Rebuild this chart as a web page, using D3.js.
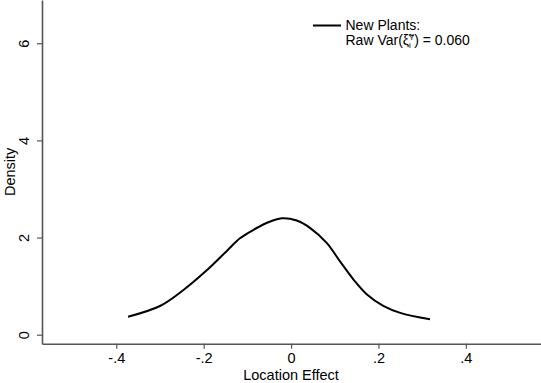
<!DOCTYPE html>
<html>
<head>
<meta charset="utf-8">
<script src="https://cdn.jsdelivr.net/npm/d3@7"></script>
<style>
  html, body { margin: 0; padding: 0; background: #fff; }
  svg { display: block; }
  text { font-family: "Liberation Sans", Arial, Helvetica, sans-serif; fill: #000; }
</style>
</head>
<body>
<svg id="chart" width="541" height="383"></svg>
<script>
// Data
const locationEffect = [-0.373, -0.300, -0.247, -0.193, -0.147, -0.117, -0.086, -0.056, -0.021, 0.013, 0.044, 0.082, 0.112, 0.143, 0.173, 0.211, 0.250, 0.318];
const density        = [0.371, 0.591, 0.915, 1.325, 1.725, 1.985, 2.160, 2.300, 2.397, 2.350, 2.195, 1.885, 1.510, 1.135, 0.835, 0.595, 0.450, 0.317];
const xTickValues = [-0.4, -0.2, 0, 0.2, 0.4];
const xTickLabels = ["-.4", "-.2", "0", ".2", ".4"];
const yTickValues = [0, 2, 4, 6];
const yTickLabels = ["0", "2", "4", "6"];
const legendTitle = "New Plants:";
const xTitle = "Location Effect";
const yTitle = "Density";

const svg = d3.select("#chart");
const plot = { left: 42, right: 541, top: 0, bottom: 343.7 };

const x = d3.scaleLinear().domain([-0.57, 0.572]).range([plot.left, plot.right]);
const y = d3.scaleLinear().domain([-0.185, 6.89]).range([plot.bottom, plot.top]);

const axisColor = "#555";
const fontFam = "Liberation Sans, Arial, sans-serif";

// X axis
const xAxis = d3.axisBottom(x)
  .tickValues(xTickValues)
  .tickFormat((d, i) => xTickLabels[i])
  .tickSize(5)
  .tickSizeOuter(0)
  .tickPadding(4);
const gx = svg.append("g").attr("transform", `translate(0,${plot.bottom})`).call(xAxis);
gx.select(".domain").attr("stroke", axisColor).attr("stroke-width", 1.6);
gx.selectAll(".tick line").attr("stroke", axisColor).attr("stroke-width", 1.2);
gx.selectAll(".tick text").attr("font-size", 14.5).attr("font-family", fontFam).attr("fill", "#000");

// Y axis
const yAxis = d3.axisLeft(y)
  .tickValues(yTickValues)
  .tickFormat((d, i) => yTickLabels[i])
  .tickSize(5)
  .tickSizeOuter(0);
const gy = svg.append("g").attr("transform", `translate(${plot.left},0)`).call(yAxis);
gy.select(".domain").attr("stroke", axisColor).attr("stroke-width", 1.6);
gy.selectAll(".tick line").attr("stroke", axisColor).attr("stroke-width", 1.2);
gy.selectAll(".tick text")
  .attr("font-size", 14.5)
  .attr("font-family", fontFam)
  .attr("fill", "#000")
  .attr("x", null).attr("dy", null)
  .attr("text-anchor", "middle")
  .attr("transform", "translate(-13,0) rotate(-90)");

// Axis titles
svg.append("text")
  .attr("x", x(0)).attr("y", 380)
  .attr("text-anchor", "middle").attr("font-size", 14.5)
  .text(xTitle);
svg.append("text")
  .attr("transform", `translate(14.5,${(plot.top + plot.bottom) / 2}) rotate(-90)`)
  .attr("text-anchor", "middle").attr("font-size", 14.5)
  .text(yTitle);

// Density curve
const pts = locationEffect.map((v, i) => [v, density[i]]);
const line = d3.line().x(d => x(d[0])).y(d => y(d[1])).curve(d3.curveCatmullRom.alpha(0.5));
svg.append("path")
  .datum(pts)
  .attr("d", line)
  .attr("fill", "none")
  .attr("stroke", "#000")
  .attr("stroke-width", 2);

// Legend
const lg = svg.append("g");
lg.append("line").attr("x1", 313).attr("x2", 341).attr("y1", 25.5).attr("y2", 25.5)
  .attr("stroke", "#000").attr("stroke-width", 2);
lg.append("text").attr("x", 345.5).attr("y", 29.5).attr("font-size", 14).text(legendTitle);
const t2 = lg.append("text").attr("x", 345.5).attr("y", 44.5).attr("font-size", 14);
t2.append("tspan").text("Raw Var(");
t2.append("tspan").text("\u03BE\u0303");
t2.append("tspan").attr("font-size", 8).attr("dy", 3).text("i");
t2.append("tspan").attr("font-size", 8).attr("dx", -2).attr("dy", -8).text("Y");
t2.append("tspan").attr("dy", 5).text(") = 0.060");
</script>
</body>
</html>
